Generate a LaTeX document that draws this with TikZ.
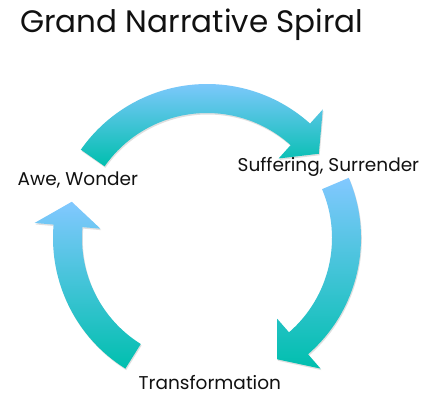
\documentclass[tikz,border=0pt]{standalone}
\usepackage{fontspec}
\setmainfont{Poppins}
\usetikzlibrary{calc,shadows}
\definecolor{arrowtop}{HTML}{82C8FF}
\definecolor{arrowbot}{HTML}{00BFAE}
\definecolor{textcol}{HTML}{111111}
\tikzset{
  arrowshape/.style={top color=arrowtop, bottom color=arrowbot, draw=none,
    drop shadow={opacity=0.25, shadow xshift=0.8pt, shadow yshift=-1.5pt}},
  label/.style={inner sep=0pt, anchor=base west, text=textcol, font=\fontsize{18.5}{20}\selectfont},
  titletext/.style={inner sep=0pt, anchor=base west, text=textcol, font=\fontsize{31}{35}\selectfont}
}
\newcommand{\Ro}{154pt}
\newcommand{\Ri}{125pt}
\newcommand{\Rbo}{173pt}
\newcommand{\Rbi}{107pt}
\newcommand{\Rm}{140pt}
% #1 tail angle, #2 head base angle, #3 tip angle
\newcommand{\curvedarrow}[3]{%
  \shade[arrowshape] ($(C)+(#1:\Ro)$) arc[start angle=#1, end angle=#2, radius=\Ro]
    -- ($(C)+(#2:\Rbo)$) -- ($(C)+(#3:\Rm)$) -- ($(C)+(#2:\Rbi)$)
    -- ($(C)+(#2:\Ri)$) arc[start angle=#2, end angle=#1, radius=\Ri] -- cycle;
}
\begin{document}
\begin{tikzpicture}[x=1pt,y=1pt]
\useasboundingbox[fill=white] (0,0) rectangle (436,-416);
\coordinate (C) at (207,-238);
\curvedarrow{145}{48}{37}
\curvedarrow{23}{-49}{-60}
\curvedarrow{238}{175}{165}
\node[titletext] (title) at (20,-32) {Grand Narrative Spiral};
\node[label] (awe) at (17.5,-185.5) {Awe, Wonder};
\node[label] (suf) at (237.5,-171.5) {Suffering, Surrender};
\node[label] (tra) at (138.5,-389.5) {Transformation};
\end{tikzpicture}
\end{document}
